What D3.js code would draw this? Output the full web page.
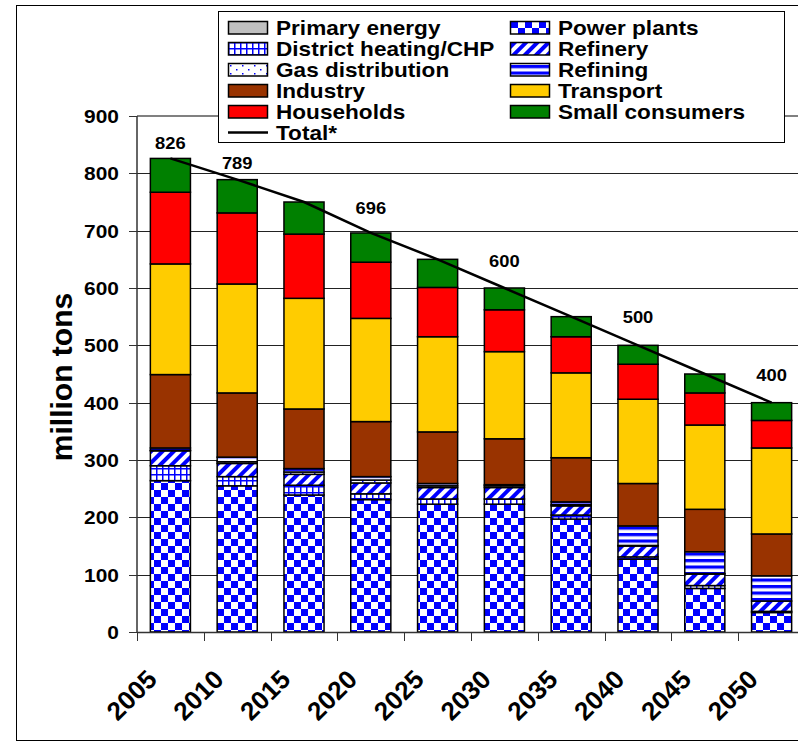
<!DOCTYPE html>
<html>
<head>
<meta charset="utf-8">
<script src="https://cdn.jsdelivr.net/npm/d3@7"></script>
<style>
  html, body { margin: 0; padding: 0; background: #fff; }
  svg { display: block; }
  text { font-family: "Liberation Sans", Arial, sans-serif; font-weight: bold; fill: #000; }
</style>
</head>
<body>
<svg id="chart" width="798" height="746"></svg>
<script>
// ---------------- data ----------------
const years = ["2005","2010","2015","2020","2025","2030","2035","2040","2045","2050"];
const seriesNames = ["Primary energy","Power plants","District heating/CHP","Refinery","Gas distribution","Refining","Industry","Transport","Households","Small consumers"];
const primaryEnergy   = [0,0,0,0,0,0,0,0,0,0];
const powerPlants     = [264,255,239,231,223,223,197,127,76,34];
const districtHeating = [26,16,17,10,9,9,7,4,5,2];
const refinery        = [26,23,19,19,20,20,16,19,20,18];
const gasDistribution = [1,3,4,5,3,3,2,1,1,0];
const refining        = [4,8,6,6,4,2,5,34,38,44];
const industry        = [128,112,104,96,90,80,77,74,74,73];
const transport       = [193,190,193,180,166,152,148,147,147,150];
const households      = [125,124,112,98,86,73,63,61,56,48];
const smallConsumers  = [59,58,56,51,49,38,35,33,33,31];
const totals          = [826,789,750,696,650,600,550,500,450,400];
const labelledYears   = ["2005","2010","2020","2030","2040","2050"];
const yTicks          = [0,100,200,300,400,500,600,700,800,900];
const legendOrder     = ["Primary energy","Power plants","District heating/CHP","Refinery","Gas distribution","Refining","Industry","Transport","Households","Small consumers","Total*"];

// ---------------- setup ----------------
const svg = d3.select("#chart");
const defs = svg.append("defs");
const BLUE = "#0000FF";

// checkerboard
const pChk = defs.append("pattern").attr("id","pChecker").attr("patternUnits","userSpaceOnUse")
  .attr("width",14).attr("height",14);
pChk.append("rect").attr("width",14).attr("height",14).attr("fill","#fff");
pChk.append("rect").attr("x",0).attr("y",0).attr("width",7).attr("height",7).attr("fill",BLUE);
pChk.append("rect").attr("x",7).attr("y",7).attr("width",7).attr("height",7).attr("fill",BLUE);

// grid
const pGrid = defs.append("pattern").attr("id","pGrid").attr("patternUnits","userSpaceOnUse")
  .attr("width",6).attr("height",6);
pGrid.append("rect").attr("width",6).attr("height",6).attr("fill","#fff");
pGrid.append("rect").attr("x",0).attr("y",0).attr("width",1.5).attr("height",6).attr("fill",BLUE);
pGrid.append("rect").attr("x",0).attr("y",0).attr("width",6).attr("height",1.5).attr("fill",BLUE);

// dots
const pDots = defs.append("pattern").attr("id","pDots").attr("patternUnits","userSpaceOnUse")
  .attr("width",12).attr("height",8);
pDots.append("rect").attr("width",12).attr("height",8).attr("fill","#fff");
pDots.append("rect").attr("x",2).attr("y",1).attr("width",1.5).attr("height",1.5).attr("fill",BLUE);
pDots.append("rect").attr("x",8).attr("y",5).attr("width",1.5).attr("height",1.5).attr("fill",BLUE);

// diagonal
const pDiag = defs.append("pattern").attr("id","pDiag").attr("patternUnits","userSpaceOnUse")
  .attr("width",8).attr("height",8).attr("patternTransform","rotate(45)");
pDiag.append("rect").attr("width",8).attr("height",8).attr("fill","#fff");
pDiag.append("rect").attr("x",0).attr("y",0).attr("width",4).attr("height",8).attr("fill",BLUE);

// horizontal stripes
const pHor = defs.append("pattern").attr("id","pHor").attr("patternUnits","userSpaceOnUse")
  .attr("width",8).attr("height",6.5);
pHor.append("rect").attr("width",8).attr("height",6.5).attr("fill","#fff");
pHor.append("rect").attr("x",0).attr("y",0).attr("width",8).attr("height",3).attr("fill",BLUE);
pHor.append("rect").attr("x",0).attr("y",3).attr("width",8).attr("height",0.8).attr("fill","#8080ff");

const fills = {
  "Primary energy": "#C0C0C0",
  "Power plants": "url(#pChecker)",
  "District heating/CHP": "url(#pGrid)",
  "Refinery": "url(#pDiag)",
  "Gas distribution": "url(#pDots)",
  "Refining": "url(#pHor)",
  "Industry": "#993300",
  "Transport": "#FFCC00",
  "Households": "#FF0000",
  "Small consumers": "#008000"
};

const seriesValues = [primaryEnergy, powerPlants, districtHeating, refinery, gasDistribution, refining,
  industry, transport, households, smallConsumers];

const table = years.map((yr, i) => {
  const row = { year: yr };
  seriesNames.forEach((s, k) => row[s] = seriesValues[k][i]);
  return row;
});

const x = d3.scaleBand().domain(years).range([137, 805]).paddingInner(0.4).paddingOuter(0.2);
const y = d3.scaleLinear().domain([0, 900]).range([632, 116]);

// outer frame
svg.append("rect").attr("x",16.5).attr("y",5.5).attr("width",800).attr("height",735)
  .attr("fill","none").attr("stroke","#000").attr("stroke-width",1);

// gridlines
svg.append("g").selectAll("line").data(yTicks.filter(d => d > 0 && d < 900)).join("line")
  .attr("x1",137).attr("x2",805)
  .attr("y1", d => Math.round(y(d)) + 0.5).attr("y2", d => Math.round(y(d)) + 0.5)
  .attr("stroke","#222").attr("stroke-width",1);
// plot area top border
svg.append("line").attr("x1",137).attr("x2",805).attr("y1",y(900)).attr("y2",y(900))
  .attr("stroke","#808080").attr("stroke-width",2);

// stacked bars
const stack = d3.stack().keys(seriesNames);
const stacked = stack(table);
const layers = svg.append("g").selectAll("g").data(stacked).join("g")
  .attr("fill", d => fills[d.key]);
layers.selectAll("rect").data(d => d.filter(p => p[1] - p[0] > 0)).join("rect")
  .attr("x", d => x(d.data.year))
  .attr("width", x.bandwidth())
  .attr("y", d => y(d[1]))
  .attr("height", d => y(d[0]) - y(d[1]))
  .attr("stroke","#000").attr("stroke-width",1.5);

// axes
const yAxisG = svg.append("g").attr("transform","translate(137,0)");
yAxisG.append("line").attr("x1",0).attr("x2",0).attr("y1",y(900)).attr("y2",y(0))
  .attr("stroke","#333").attr("stroke-width",1.5);
yAxisG.selectAll("line.tick").data(yTicks).join("line").attr("class","tick")
  .attr("x1",-8).attr("x2",0)
  .attr("y1", d => Math.round(y(d)) + 0.5).attr("y2", d => Math.round(y(d)) + 0.5)
  .attr("stroke","#333").attr("stroke-width",1);
yAxisG.selectAll("text").data(yTicks).join("text")
  .attr("transform", d => `translate(-18,${y(d)}) scale(1.1,1)`)
  .attr("text-anchor","end").attr("dy","0.36em")
  .style("font-size","19px")
  .text(d => d);

const xAxisG = svg.append("g");
xAxisG.append("line").attr("x1",137).attr("x2",805).attr("y1",632.5).attr("y2",632.5)
  .attr("stroke","#333").attr("stroke-width",1.5);
const boundaries = years.map(yr => x(yr) - x.step() * 0.2).concat([805]);
xAxisG.selectAll("line.tick").data(boundaries).join("line").attr("class","tick")
  .attr("x1", d => Math.round(d) + 0.5).attr("x2", d => Math.round(d) + 0.5)
  .attr("y1",632).attr("y2",641)
  .attr("stroke","#333").attr("stroke-width",1);
xAxisG.selectAll("text").data(years).join("text")
  .attr("transform", d => `translate(${x(d) + x.bandwidth()/2 - 12},681) rotate(-45)`)
  .attr("text-anchor","end")
  .style("font-size","26px")
  .text(d => d);

// y title
svg.append("text")
  .attr("transform","translate(72,377) rotate(-90)")
  .attr("text-anchor","middle")
  .style("font-size","30px")
  .text("million tons");

// total line
const line = d3.line().x((d, i) => x(years[i]) + x.bandwidth()/2).y(d => y(d));
svg.append("path").datum(totals).attr("d", line)
  .attr("fill","none").attr("stroke","#000").attr("stroke-width",2.5);

// total labels
const labelLift = [16, 17, 25, 27, 28, 28];
svg.append("g").selectAll("text").data(labelledYears).join("text")
  .attr("transform", (d, i) => {
    const idx = years.indexOf(d);
    return `translate(${x(d) + x.bandwidth()/2},${y(totals[idx]) - labelLift[i]}) scale(1.08,1)`;
  })
  .attr("text-anchor","middle").attr("dy","0.36em")
  .style("font-size","17px")
  .text(d => totals[years.indexOf(d)]);

// legend
const lg = svg.append("g");
lg.append("rect").attr("x",218.5).attr("y",11.5).attr("width",566).attr("height",131)
  .attr("fill","#fff").attr("stroke","#000").attr("stroke-width",1);
const colX = [228, 510];
const rowY0 = 27.5, rowStep = 21;
legendOrder.forEach((name, i) => {
  const col = i % 2, row = Math.floor(i / 2);
  const sx = colX[col], cy = rowY0 + row * rowStep;
  if (name === "Total*") {
    lg.append("line").attr("x1", sx).attr("x2", sx + 40).attr("y1", cy).attr("y2", cy)
      .attr("stroke","#000").attr("stroke-width",2.5);
  } else {
    lg.append("rect").attr("x", sx + 0.5).attr("y", cy - 6).attr("width", 39).attr("height", 12.5)
      .attr("fill", fills[name]).attr("stroke","#000").attr("stroke-width",1.5);
  }
  lg.append("text")
    .attr("transform", `translate(${sx + 48},${cy}) scale(1.13,1)`)
    .attr("dy","0.36em")
    .style("font-size","20px")
    .text(name);
});
</script>
</body>
</html>
